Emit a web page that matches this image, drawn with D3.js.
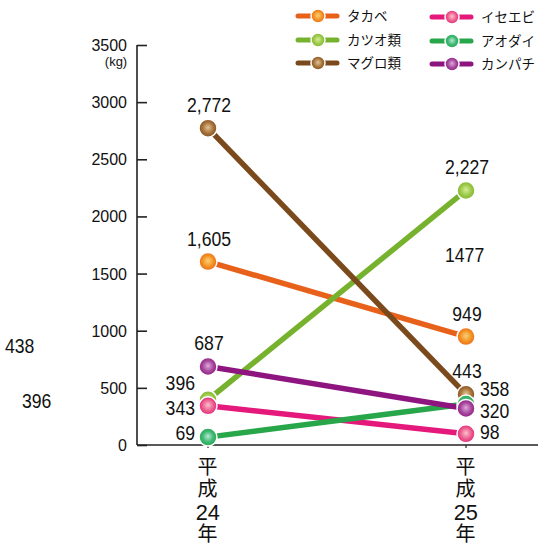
<!DOCTYPE html>
<html>
<head>
<meta charset="utf-8">
<script src="https://cdn.jsdelivr.net/npm/d3@7"></script>
<style>
  html, body { margin: 0; padding: 0; background: #fff; }
  #wrap { position: relative; width: 539px; height: 547px; }
  svg { display: block; position: absolute; left: 0; top: 0; }
  .num { font-family: "Liberation Sans", Arial, sans-serif; font-size: 21px; fill: #111; }
  .tick-label { font-family: "Liberation Sans", Arial, sans-serif; font-size: 16px; fill: #111; }
  .unit { font-family: "Liberation Sans", Arial, sans-serif; font-size: 13px; fill: #111; }
  .legend-text { font-family: "Noto Sans CJK JP", sans-serif; font-size: 13.5px; fill: #111; }
  .cat {
    position: absolute; top: 456px; width: 24px; line-height: 24px;
    writing-mode: vertical-rl; text-orientation: upright;
    font-family: "Noto Sans CJK JP", sans-serif; font-size: 20px; color: #111;
    letter-spacing: 2.5px; white-space: nowrap;
  }
  .cat .yr { text-combine-upright: all; font-family: "Liberation Sans", Arial, sans-serif; font-size: 22px; }
</style>
</head>
<body>
<div id="wrap">
<svg id="chart" width="539" height="547"></svg>
</div>
<script>
// Years on the horizontal axis
const years = ["平成24年", "平成25年"];
// Fish species
const species = ["タカベ", "カツオ類", "マグロ類", "イセエビ", "アオダイ", "カンパチ"];
// Catch (kg) per species, in year order
const takabe = [1605, 949];
const katsuo = [396, 2227];
const maguro = [2772, 443];
const iseebi = [343, 98];
const aodai = [69, 358];
const kanpachi = [687, 320];
const seriesValues = [takabe, katsuo, maguro, iseebi, aodai, kanpachi];
// Y-axis ticks
const yTicks = [0, 500, 1000, 1500, 2000, 2500, 3000, 3500];
// Loose figures printed on the sheet
const looseNumbers = ["438", "396", "1477"];

const lineColors = ["#e8611a", "#77b22e", "#7b4a1c", "#e5187b", "#27a64a", "#8e1580"];
const markLight = ["#fbd07a", "#d6ec9a", "#e2c39a", "#fbc1cf", "#b8ead0", "#e2a9dc"];
const markMid = ["#f39322", "#9cc948", "#a8743a", "#ec5f8d", "#3db774", "#a5479b"];

const svg = d3.select("#chart");
const defs = svg.append("defs");

const x = d3.scalePoint().domain(years).range([208, 466]);
const y = d3.scaleLinear().domain([0, 3500]).range([445, 45]);

// Condensed number text: horizontally squeezed around its anchor
const NARROW = 0.84;
function narrowText(px, py, str, anchor) {
  return svg.append("text").attr("class", "num")
    .attr("transform", `translate(${px},${py}) scale(${NARROW},1)`)
    .attr("text-anchor", anchor || "start")
    .text(str);
}

// Axes
const axisColor = "#222";
svg.append("line").attr("x1", 137).attr("x2", 137).attr("y1", y(3500)).attr("y2", y(0))
  .attr("stroke", axisColor).attr("stroke-width", 1.6);
svg.append("line").attr("x1", 137).attr("x2", 538).attr("y1", y(0)).attr("y2", y(0))
  .attr("stroke", axisColor).attr("stroke-width", 1.6);

const yAxis = d3.axisRight(y).tickValues(yTicks).tickSize(10).tickFormat("");
const yg = svg.append("g").attr("transform", "translate(137,0)").call(yAxis);
yg.select(".domain").remove();
yg.selectAll(".tick line").attr("stroke", axisColor).attr("stroke-width", 1.6);

svg.selectAll(".tick-label").data(yTicks).join("text")
  .attr("class", "tick-label")
  .attr("x", 127).attr("y", d => y(d) + 6)
  .attr("text-anchor", "end")
  .text(d => d);

svg.append("text").attr("class", "unit").attr("x", 116).attr("y", 66).attr("text-anchor", "middle")
  .text("(kg)");

// Small category ticks below the axis
svg.selectAll(".xt").data(years).join("line")
  .attr("x1", d => x(d)).attr("x2", d => x(d)).attr("y1", y(0)).attr("y2", y(0) + 3)
  .attr("stroke", axisColor).attr("stroke-width", 1.2);

// Category labels set vertically, year digits kept side by side
d3.select("#wrap").selectAll("div.cat").data(years).join("div")
  .attr("class", "cat")
  .style("left", d => (x(d) - 13) + "px")
  .html(d => `${d.slice(0, 2)}<span class="yr">${d.slice(2, 4)}</span>${d.slice(4)}`);

// Gradients for markers
species.forEach((s, i) => {
  const g = defs.append("radialGradient").attr("id", "grad" + i)
    .attr("cx", "50%").attr("cy", "50%").attr("r", "55%").attr("fx", "50%").attr("fy", "45%");
  g.append("stop").attr("offset", "0%").attr("stop-color", markLight[i]);
  g.append("stop").attr("offset", "55%").attr("stop-color", markMid[i]);
  g.append("stop").attr("offset", "100%").attr("stop-color", lineColors[i]);
});

// Lines
const line = d3.line().x((d, j) => x(years[j])).y(d => y(d));
const lineLayer = svg.append("g");
seriesValues.forEach((vals, i) => {
  lineLayer.append("path").attr("d", line(vals))
    .attr("fill", "none").attr("stroke", lineColors[i]).attr("stroke-width", 5.5);
});

// Markers
const markLayer = svg.append("g");
seriesValues.forEach((vals, i) => {
  vals.forEach((v, j) => {
    markLayer.append("circle")
      .attr("cx", x(years[j])).attr("cy", y(v)).attr("r", 9)
      .attr("fill", `url(#grad${i})`).attr("stroke", "#fff").attr("stroke-width", 1.5);
  });
});

// Value labels: [series, year index, position]
const fmt = d3.format(",");
const labelSpec = [
  [2, 0, "above"], [0, 0, "above"], [5, 0, "above"],
  [1, 0, "left"], [3, 0, "left"], [4, 0, "left"],
  [1, 1, "above"], [0, 1, "above"], [2, 1, "above"],
  [4, 1, "right"], [5, 1, "right"], [3, 1, "right"]
];
const leftBase = { 1: 390, 3: 415, 4: 440 };
const rightBase = { 4: 396, 5: 418, 3: 439 };
labelSpec.forEach(([si, j, pos]) => {
  const v = seriesValues[si][j];
  const cx = x(years[j]), cy = y(v);
  if (pos === "above") {
    narrowText(cx + 1, cy - 16, fmt(v), "middle");
  } else if (pos === "left") {
    narrowText(cx - 13, leftBase[si], fmt(v), "end");
  } else {
    narrowText(cx + 14, rightBase[si], fmt(v), "start");
  }
});

// Loose figures
const loosePos = [[5, 353], [22, 408], [445, 262]];
looseNumbers.forEach((n, i) => {
  narrowText(loosePos[i][0], loosePos[i][1], n, "start");
});

// Legend
const legendPos = [[296, 16], [296, 40], [296, 63], [430, 17], [430, 41], [430, 64]];
species.forEach((s, i) => {
  const [lx, ly] = legendPos[i];
  const g = svg.append("g");
  g.append("line").attr("x1", lx + 2).attr("x2", lx + 41).attr("y1", ly).attr("y2", ly)
    .attr("stroke", lineColors[i]).attr("stroke-width", 5).attr("stroke-linecap", "round");
  g.append("circle").attr("cx", lx + 22).attr("cy", ly).attr("r", 7)
    .attr("fill", `url(#grad${i})`).attr("stroke", "#fff").attr("stroke-width", 1.5);
  g.append("text").attr("class", "legend-text").attr("x", lx + 51).attr("y", ly + 5).text(s);
});
</script>
</body>
</html>
